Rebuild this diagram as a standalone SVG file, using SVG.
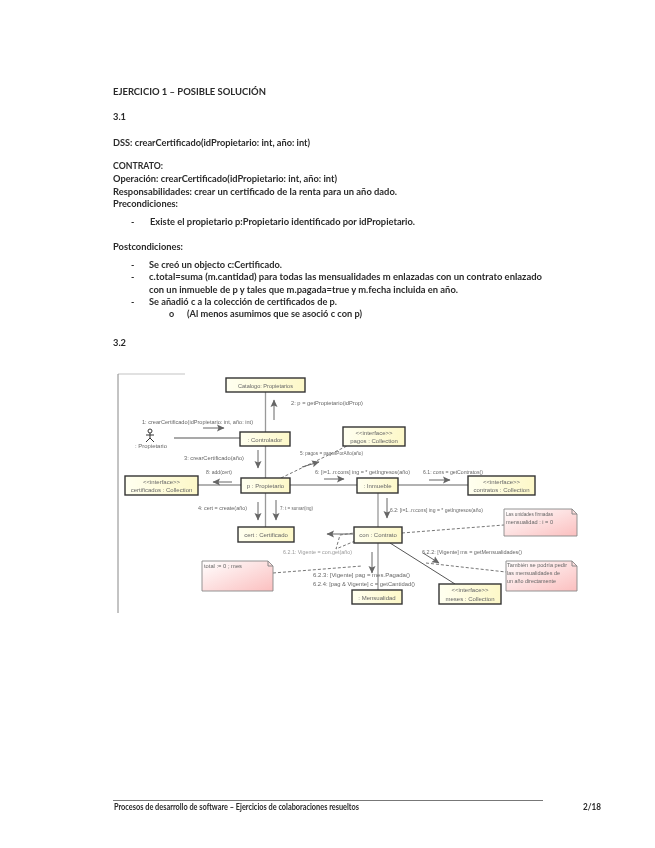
<svg xmlns="http://www.w3.org/2000/svg" width="655" height="848" viewBox="0 0 655 848">
<style>
.t{font-family:Lato,"Liberation Sans",Arial,sans-serif;font-size:9px;font-weight:700;fill:#2a2a2a}
.d{font-family:"Liberation Sans",Arial,sans-serif;font-size:6px;fill:#666}
.l{fill:#999}
.m{text-anchor:middle}
.n{fill:url(#ng);stroke:#333;stroke-width:1.4}
.c{stroke:#999;stroke-width:1.3;fill:none}
.k{stroke:#555;stroke-width:1;fill:none}
.s{stroke:#666;stroke-width:1;fill:none;marker-end:url(#a)}
.dl{stroke:#666;stroke-width:.9;fill:none;stroke-dasharray:3 2}
.note{fill:url(#pg);stroke:#888;stroke-width:.9}
.f{fill:none;stroke:#888;stroke-width:1}
</style>
<defs>
<linearGradient id="ng"><stop offset="0" stop-color="#fffff0"/><stop offset="1" stop-color="#fdf8c8"/></linearGradient>
<linearGradient id="pg" x1="0" y1="0" x2="1" y2="1"><stop offset="0" stop-color="#fff"/><stop offset="1" stop-color="#fbbfbf"/></linearGradient>
<marker id="a" markerWidth="8" markerHeight="8" refX="7" refY="4" orient="auto" markerUnits="userSpaceOnUse"><path d="M0 0.500L7.500 4L0 7.500L1.500 4Z" fill="#666"/></marker>
<filter id="b" x="-2%" y="-2%" width="104%" height="104%"><feGaussianBlur stdDeviation="0.4"/></filter>
</defs>
<rect width="655" height="848" fill="#fff"/>
<g id="documento" filter="url(#b)">
<text class="t" x="113" y="95" textLength="153" lengthAdjust="spacingAndGlyphs">EJERCICIO 1 – POSIBLE SOLUCIÓN</text>
<text class="t" x="113" y="120" textLength="13" lengthAdjust="spacingAndGlyphs">3.1</text>
<text class="t" x="113" y="146" textLength="197" lengthAdjust="spacingAndGlyphs">DSS: crearCertificado(idPropietario: int, año: int)</text>
<text class="t" x="113" y="169" textLength="50" lengthAdjust="spacingAndGlyphs">CONTRATO:</text>
<text class="t" x="113" y="182" textLength="224" lengthAdjust="spacingAndGlyphs">Operación: crearCertificado(idPropietario: int, año: int)</text>
<text class="t" x="113" y="195" textLength="284" lengthAdjust="spacingAndGlyphs">Responsabilidades: crear un certificado de la renta para un año dado.</text>
<text class="t" x="113" y="207" textLength="65" lengthAdjust="spacingAndGlyphs">Precondiciones:</text>
<text class="t" x="131" y="225">-</text>
<text class="t" x="150" y="225" textLength="265" lengthAdjust="spacingAndGlyphs">Existe el propietario p:Propietario identificado por idPropietario.</text>
<text class="t" x="113" y="250" textLength="70" lengthAdjust="spacingAndGlyphs">Postcondiciones:</text>
<text class="t" x="131" y="268">-</text>
<text class="t" x="149" y="268" textLength="133" lengthAdjust="spacingAndGlyphs">Se creó un objecto c:Certificado.</text>
<text class="t" x="131" y="280">-</text>
<text class="t" x="149" y="280" textLength="393" lengthAdjust="spacingAndGlyphs">c.total=suma (m.cantidad) para todas las mensualidades m enlazadas con un contrato enlazado</text>
<text class="t" x="149" y="293" textLength="309" lengthAdjust="spacingAndGlyphs">con un inmueble de p y tales que m.pagada=true y m.fecha incluida en año.</text>
<text class="t" x="131" y="305">-</text>
<text class="t" x="149" y="305" textLength="188" lengthAdjust="spacingAndGlyphs">Se añadió c a la colección de certificados de p.</text>
<text class="t" x="169" y="317">o</text>
<text class="t" x="187" y="317" textLength="175" lengthAdjust="spacingAndGlyphs">(Al menos asumimos que se asoció c con p)</text>
<text class="t" x="113" y="346" textLength="13" lengthAdjust="spacingAndGlyphs">3.2</text>
</g>
<g filter="url(#b)">
<path id="marco" class="f" d="M118 374V613"/>
<path class="f" d="M118 374H185" stroke-width=".5" opacity=".5"/>
<g id="conectores">
<path class="c" d="M265.500 392V478M265.500 493V527"/>
<path class="k" d="M174 438H240" stroke="#444"/>
<path class="c" d="M198 485H241M290 485H357M398 485H468"/>
<path class="c" d="M378 493V527"/>
<path class="c" d="M378 543V590"/>
<path class="k" d="M390 543L455 584"/>
<path class="dl" d="M281 478L347 446"/>
<path class="dl" d="M355 541L336 549L340 535L354 533"/>
<path class="dl" d="M273 573L362 566"/>
<path class="dl" d="M402 533L504 525"/>
<path class="dl" d="M426 563L506 572"/>
<path class="s" d="M274 420V400"/>
<path class="s" d="M203 428H224"/>
<path class="s" d="M258 450V468"/>
<path class="s" d="M232 482H213"/>
<path class="s" d="M302 467L319 462"/>
<path class="s" d="M324 479H344"/>
<path class="s" d="M429 480H450"/>
<path class="s" d="M258 502V520"/>
<path class="s" d="M276 500V520"/>
<path class="s" d="M387 498V518"/>
<path class="s" d="M353 534H327"/>
<path class="s" d="M372 552V573"/>
<path class="s" d="M423 553L439 563"/>
</g>
</g>
<g filter="url(#b)">
<g id="catalogo"><rect class="n" x="226" y="378" width="79" height="14"/><text class="d m" x="265.500" y="387.500" textLength="55" lengthAdjust="spacingAndGlyphs">Catalogo: Propietarios</text></g>
<g id="controlador"><rect class="n" x="240" y="432" width="50" height="14"/><text class="d m" x="265" y="441.500">: Controlador</text></g>
<g id="propietario"><rect class="n" x="241" y="478" width="49" height="15"/><text class="d m" x="265.500" y="488">p : Propietario</text></g>
<g id="certificados"><rect class="n" x="125" y="476" width="73" height="19"/><text class="d m" x="161.500" y="484">&lt;&lt;interface&gt;&gt;</text><text class="d m" x="161.500" y="492">certificados : Collection</text></g>
<g id="pagos"><rect class="n" x="343" y="427" width="62" height="19"/><text class="d m" x="374" y="435">&lt;&lt;interface&gt;&gt;</text><text class="d m" x="374" y="443">pagos : Collection</text></g>
<g id="inmueble"><rect class="n" x="357" y="478" width="41" height="15"/><text class="d m" x="377.500" y="488">: Inmueble</text></g>
<g id="contratos"><rect class="n" x="468" y="476" width="67" height="19"/><text class="d m" x="501.500" y="484">&lt;&lt;interface&gt;&gt;</text><text class="d m" x="501.500" y="492">contratos : Collection</text></g>
<g id="cert"><rect class="n" x="238" y="527" width="56" height="15"/><text class="d m" x="266" y="537">cert : Certificado</text></g>
<g id="contrato"><rect class="n" x="354" y="527" width="48" height="16"/><text class="d m" x="378" y="537">con : Contrato</text></g>
<g id="mensualidad"><rect class="n" x="352" y="590" width="50" height="14"/><text class="d m" x="377" y="599.500">: Mensualidad</text></g>
<g id="meses"><rect class="n" x="439" y="584" width="62" height="20"/><text class="d m" x="470" y="592">&lt;&lt;interface&gt;&gt;</text><text class="d m" x="470" y="601">meses : Collection</text></g>
<g id="actor">
<circle cx="150" cy="431" r="2" fill="none" stroke="#333"/>
<path d="M150 433V438M146 435H154M150 438L146 442M150 438L154 442" fill="none" stroke="#333"/>
<text class="d m" x="151" y="448" textLength="32" lengthAdjust="spacingAndGlyphs">: Propietario</text>
</g>
<g id="nota-resultado"><path class="note" d="M202 561H268L273 566V591H202Z"/><path class="f" d="M268 561V566H273"/><text class="d" x="204" y="568" textLength="38" lengthAdjust="spacingAndGlyphs">total := 0 ; mes</text></g>
<g id="nota-condicion"><path class="note" d="M504 509H572L577 514V536H504Z"/><path class="f" d="M572 509V514H577"/><text class="d" x="506" y="516" textLength="47" lengthAdjust="spacingAndGlyphs">Las unidades firmadas</text><text class="d" x="506" y="524" textLength="47" lengthAdjust="spacingAndGlyphs">mensualidad : i = 0</text></g>
<g id="nota-tambien"><path class="note" d="M506 561H572L577 566V591H506Z"/><path class="f" d="M572 561V566H577"/><text class="d" x="507" y="567" textLength="60" lengthAdjust="spacingAndGlyphs">También se podría pedir</text><text class="d" x="507" y="575" textLength="53" lengthAdjust="spacingAndGlyphs">las mensualidades de</text><text class="d" x="507" y="583" textLength="49" lengthAdjust="spacingAndGlyphs">un año directamente</text></g>
</g>
<g id="etiquetas" filter="url(#b)">
<text class="d" x="291" y="405" textLength="72" lengthAdjust="spacingAndGlyphs">2: p = getPropietario(idProp)</text>
<text class="d" x="142" y="424" textLength="111" lengthAdjust="spacingAndGlyphs">1: crearCertificado(idPropietario: int, año: int)</text>
<text class="d" x="184" y="460" textLength="60" lengthAdjust="spacingAndGlyphs">3: crearCertificado(año)</text>
<text class="d" x="206" y="474" textLength="26" lengthAdjust="spacingAndGlyphs">8: add(cert)</text>
<text class="d" x="300" y="455" textLength="63" lengthAdjust="spacingAndGlyphs">5: pagos = pagosPorAño(año)</text>
<text class="d" x="315" y="474" textLength="95" lengthAdjust="spacingAndGlyphs">6: [i=1..n:cons] ing = * getIngresos(año)</text>
<text class="d" x="423" y="474" textLength="60" lengthAdjust="spacingAndGlyphs">6.1: cons = getContratos()</text>
<text class="d" x="390" y="512" textLength="93" lengthAdjust="spacingAndGlyphs">6.2: [i=1..n:cons] ing = * getIngresos(año)</text>
<text class="d" x="198" y="510" textLength="49" lengthAdjust="spacingAndGlyphs">4: cert = create(año)</text>
<text class="d" x="280" y="510" textLength="33" lengthAdjust="spacingAndGlyphs">7: t = sumar(ing)</text>
<text class="d l" x="283" y="554" textLength="69" lengthAdjust="spacingAndGlyphs">6.2.1: Vigente = con.get(año)</text>
<text class="d" x="422" y="554" textLength="100" lengthAdjust="spacingAndGlyphs">6.2.2: [Vigente] ms = getMensualidades()</text>
<text class="d" x="313" y="577" textLength="97" lengthAdjust="spacingAndGlyphs">6.2.3: [Vigente] pag = mes.Pagada()</text>
<text class="d" x="313" y="586" textLength="102" lengthAdjust="spacingAndGlyphs">6.2.4: [pag &amp; Vigente] c = getCantidad()</text>
</g>
<g id="pie" filter="url(#b)">
<path d="M113 800.500H543" stroke="#777" stroke-width="1"/>
<text class="t" x="114" y="810" textLength="245" lengthAdjust="spacingAndGlyphs">Procesos de desarrollo de software – Ejercicios de colaboraciones resueltos</text>
<text class="t" x="583" y="810" textLength="18" lengthAdjust="spacingAndGlyphs">2/18</text>
</g>
</svg>
